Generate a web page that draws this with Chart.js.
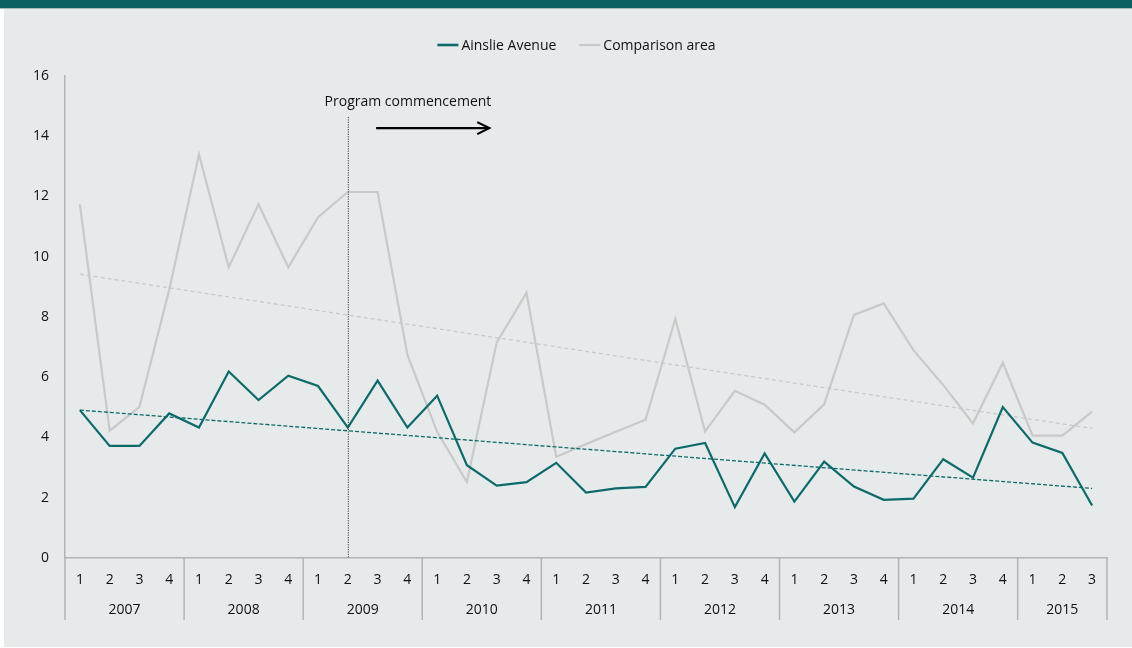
<!DOCTYPE html>
<html>
<head>
<meta charset="utf-8">
<script src="https://cdn.jsdelivr.net/npm/chart.js@4/dist/chart.umd.min.js"></script>
<style>
  html, body { margin:0; padding:0; background:#ffffff; }
  #wrap { position:relative; width:1132px; height:648px; overflow:hidden; }
  #header { position:absolute; left:0; top:0; width:1132px; height:8px; background:#0b5f61; }
  #headerLine { position:absolute; left:0; top:8px; width:1132px; height:1px; background:#a9bcbc; }
  #panel { position:absolute; left:4px; top:9px; width:1128px; height:638px; background:#e6eaea; }
  #c { position:absolute; left:0; top:0; }
</style>
</head>
<body>
<div id="wrap">
  <div id="header"></div>
  <div id="headerLine"></div>
  <div id="panel"></div>
  <canvas id="c" width="1132" height="648"></canvas>
</div>
<script>
// ---- Data ----
const quarterLabels = ['1','2','3','4','1','2','3','4','1','2','3','4','1','2','3','4','1','2','3','4',
                       '1','2','3','4','1','2','3','4','1','2','3','4','1','2','3'];
const yearLabels = ['2007','2008','2009','2010','2011','2012','2013','2014','2015'];
const yearQuarterCounts = [4,4,4,4,4,4,4,4,3];

const ainslieAvenue = [4.91,3.72,3.72,4.80, 4.33,6.19,5.24,6.05, 5.71,4.33,5.89,4.33,
                       5.39,3.08,2.40,2.52, 3.16,2.17,2.31,2.36, 3.63,3.82,1.69,3.47,
                       1.87,3.20,2.37,1.93, 1.97,3.28,2.67,5.01, 3.83,3.49,1.74];
const comparisonArea = [11.74,4.23,5.02,8.90, 13.40,9.65,11.74,9.65, 11.31,12.15,12.15,6.75,
                        4.19,2.52,7.15,8.80, 3.36,3.78,4.19,4.59, 7.94,4.20,5.55,5.09,
                        4.17,5.10,8.07,8.45, 6.90,5.74,4.47,6.48, 4.06,4.06,4.86];
// Linear trend lines: value at first and last quarter
const ainslieTrendEnds = [4.91, 2.31];
const comparisonTrendEnds = [9.42, 4.30];

const yTicks = [0,2,4,6,8,10,12,14,16];

// Annotation (program commencement at 2009 Q2)
const programIndex = 9;
const programLabel = 'Program commencement';
const legendOrder = ['Ainslie Avenue', 'Comparison area'];

// ---- Styling ----
const TEAL = '#0e6a6a';
const GREY = '#c9c9c9';
const AXIS = '#b3b3b3';
const TEXT = '#111111';
const FONT = '"Open Sans", Lato, sans-serif';
const FS = 14;

function trendSeries(ends, n) {
  const arr = new Array(n).fill(null);
  arr[0] = ends[0];
  arr[n - 1] = ends[1];
  return arr;
}

const n = quarterLabels.length;

const extrasPlugin = {
  id: 'extras',
  afterDraw(chart) {
    const ctx = chart.ctx;
    const xs = chart.scales.x;
    const ys = chart.scales.y;
    const area = chart.chartArea;
    const catW = (area.right - area.left) / n;
    ctx.save();

    // Year separators and year labels
    ctx.strokeStyle = AXIS;
    ctx.lineWidth = 1.5;
    const sepBottom = area.bottom + 62;
    let start = 0;
    const drawSep = (px) => {
      ctx.beginPath();
      ctx.moveTo(px, area.bottom);
      ctx.lineTo(px, sepBottom);
      ctx.stroke();
    };
    drawSep(xs.getPixelForValue(0) - catW / 2);
    ctx.fillStyle = TEXT;
    ctx.font = FS + 'px ' + FONT;
    ctx.textAlign = 'center';
    ctx.textBaseline = 'middle';
    yearLabels.forEach((yr, i) => {
      const cnt = yearQuarterCounts[i];
      const left = xs.getPixelForValue(start) - catW / 2;
      const right = xs.getPixelForValue(start + cnt - 1) + catW / 2;
      drawSep(right);
      ctx.fillText(yr, (left + right) / 2, area.bottom + 52.5);
      start += cnt;
    });

    // Program commencement dotted line
    const px = xs.getPixelForValue(programIndex);
    ctx.strokeStyle = '#3a3a3a';
    ctx.lineWidth = 1;
    ctx.setLineDash([1.2, 1.2]);
    ctx.beginPath();
    ctx.moveTo(px + 0.5, ys.getPixelForValue(14.64));
    ctx.lineTo(px + 0.5, ys.getPixelForValue(0));
    ctx.stroke();
    ctx.setLineDash([]);

    // Label
    ctx.fillStyle = TEXT;
    ctx.font = FS + 'px ' + FONT;
    ctx.textAlign = 'center';
    ctx.textBaseline = 'middle';
    ctx.fillText(programLabel, xs.getPixelForValue(programIndex) + 2.02 * catW, ys.getPixelForValue(15.17) + 1);

    // Arrow
    const ay = ys.getPixelForValue(14.27);
    const ax0 = xs.getPixelForValue(programIndex) + 0.95 * catW;
    const ax1 = xs.getPixelForValue(programIndex) + 4.75 * catW;
    ctx.strokeStyle = '#000000';
    ctx.lineWidth = 2.2;
    ctx.beginPath();
    ctx.moveTo(ax0, ay);
    ctx.lineTo(ax1, ay);
    ctx.stroke();
    ctx.beginPath();
    ctx.moveTo(ax1 - 12, ay - 6);
    ctx.lineTo(ax1, ay);
    ctx.lineTo(ax1 - 12, ay + 6);
    ctx.stroke();

    // Legend (series order as in the reference)
    const items = legendOrder.map(l => chart.data.datasets.find(d => d.label === l));
    ctx.font = FS + 'px ' + FONT;
    ctx.textAlign = 'left';
    ctx.textBaseline = 'middle';
    const sw = 21, gap = 3, itemGap = 23;
    let total = 0;
    items.forEach((d, i) => {
      total += sw + gap + ctx.measureText(d.label).width + (i < items.length - 1 ? itemGap : 0);
    });
    let lx = 576.5 - total / 2;
    const ly = 45;
    items.forEach((d) => {
      ctx.strokeStyle = d.borderColor;
      ctx.lineWidth = d.label === 'Ainslie Avenue' ? 2.6 : 2.2;
      ctx.beginPath();
      ctx.moveTo(lx, ly);
      ctx.lineTo(lx + sw, ly);
      ctx.stroke();
      ctx.fillStyle = TEXT;
      ctx.fillText(d.label, lx + sw + gap, ly + 1);
      lx += sw + gap + ctx.measureText(d.label).width + itemGap;
    });

    ctx.restore();
  }
};

function build() {
  new Chart(document.getElementById('c'), {
    type: 'line',
    data: {
      labels: quarterLabels,
      datasets: [
        { label: 'Comparison area trend', data: trendSeries(comparisonTrendEnds, n), borderColor: GREY,
          borderWidth: 1.3, borderDash: [4, 3], pointRadius: 0, spanGaps: true, tension: 0, order: 4 },
        { label: 'Ainslie Avenue trend', data: trendSeries(ainslieTrendEnds, n), borderColor: TEAL,
          borderWidth: 1.3, borderDash: [4, 2], pointRadius: 0, spanGaps: true, tension: 0, order: 1 },
        { label: 'Comparison area', data: comparisonArea, borderColor: GREY, backgroundColor: GREY,
          borderWidth: 2.2, pointRadius: 0, tension: 0, order: 3 },
        { label: 'Ainslie Avenue', data: ainslieAvenue, borderColor: TEAL, backgroundColor: TEAL,
          borderWidth: 2.2, pointRadius: 0, tension: 0, order: 2 }
      ]
    },
    options: {
      responsive: false,
      animation: false,
      devicePixelRatio: 1,
      layout: { padding: { top: 76, right: 25, bottom: 0, left: 0 } },
      plugins: { legend: { display: false }, tooltip: { enabled: false } },
      scales: {
        x: {
          type: 'category',
          offset: true,
          grid: { display: false, drawTicks: false },
          border: { display: true, color: AXIS, width: 1.5 },
          ticks: { padding: 14, autoSkip: false, maxRotation: 0, color: TEXT, font: { family: FONT, size: FS } },
          afterFit(s) { s.height = 90; }
        },
        y: {
          min: 0, max: 16,
          afterBuildTicks(s) { s.ticks = yTicks.map(v => ({ value: v })); },
          grid: { display: false, drawTicks: false },
          border: { display: true, color: AXIS, width: 1.5 },
          ticks: { padding: 16, color: TEXT, font: { family: FONT, size: FS } },
          afterFit(s) { s.width = 65; }
        }
      }
    },
    plugins: [extrasPlugin]
  });
}

if (document.fonts && document.fonts.load) {
  document.fonts.load(FS + 'px "Open Sans"').then(build, build);
} else { build(); }
</script>
</body>
</html>
